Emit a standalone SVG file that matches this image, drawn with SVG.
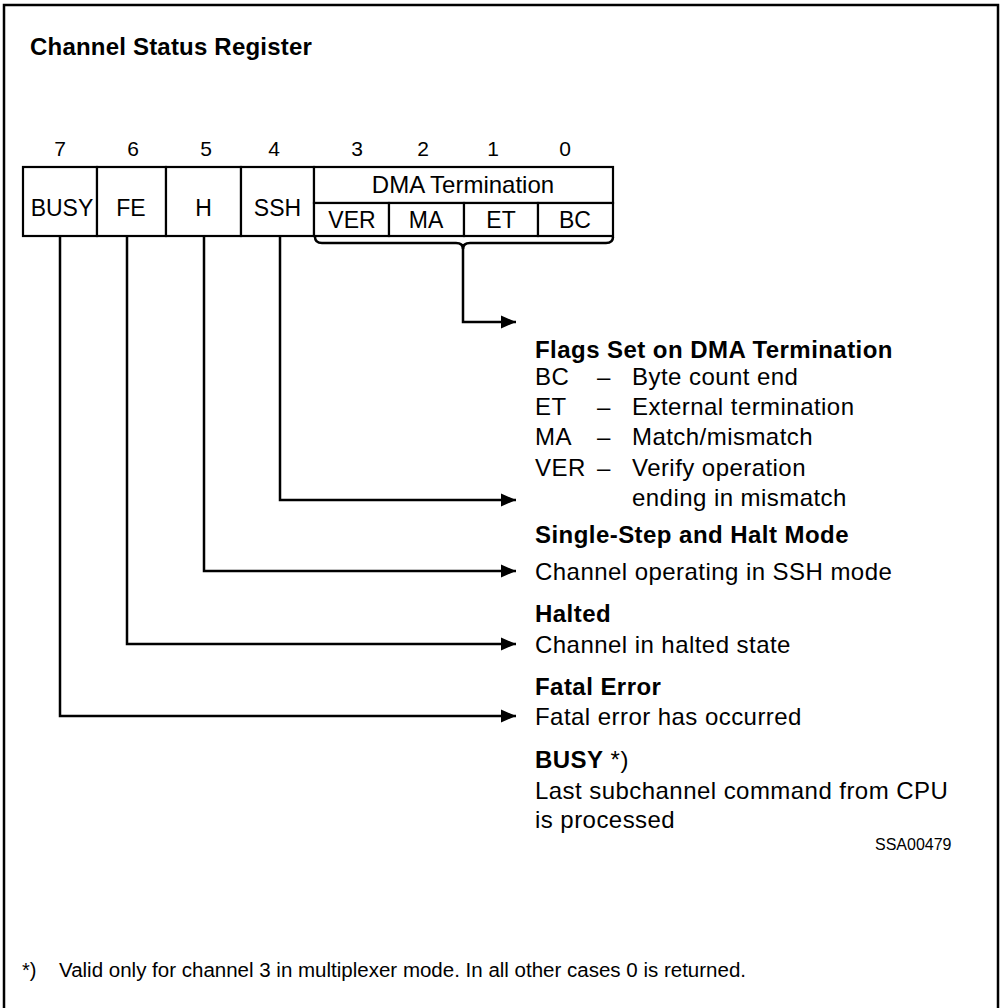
<svg xmlns="http://www.w3.org/2000/svg" width="1000" height="1008" viewBox="0 0 1000 1008">
<defs>
<style>
text{font-family:"Liberation Sans",Arial,sans-serif;fill:#000}
.t{font-size:24px;font-weight:bold;letter-spacing:0.2px}
.h{font-size:24px;font-weight:bold;letter-spacing:0.45px}
.d{font-size:24px;letter-spacing:0.45px}
.bit{font-size:21px;text-anchor:middle}
.cell{font-size:23px;text-anchor:middle}
.box{fill:#fff;stroke:#000;stroke-width:2.2}
.ln{fill:none;stroke:#000;stroke-width:2.5}
.foot{font-size:20px}
.code{font-size:16px}
</style>
<marker id="arr" markerUnits="userSpaceOnUse" markerWidth="16" markerHeight="16" viewBox="0 0 16 16" refX="15" refY="8" orient="auto">
<path d="M0,1.5 L15,8 L0,14.5 Z" fill="#000"/>
</marker>
</defs>
<rect x="0" y="0" width="1000" height="1008" fill="#fff"/>
<rect x="4" y="5" width="994" height="1020" fill="none" stroke="#000" stroke-width="2.5"/>
<text class="t" x="30" y="55">Channel Status Register</text>

<g id="bits">
<text class="bit" x="60" y="156">7</text>
<text class="bit" x="133" y="156">6</text>
<text class="bit" x="206" y="156">5</text>
<text class="bit" x="274" y="156">4</text>
<text class="bit" x="357" y="156">3</text>
<text class="bit" x="423" y="156">2</text>
<text class="bit" x="493" y="156">1</text>
<text class="bit" x="565" y="156">0</text>
</g>

<g id="reg-busy"><rect class="box" x="23" y="167" width="74" height="69"/><text class="cell" x="62" y="216">BUSY</text></g>
<g id="reg-fe"><rect class="box" x="97" y="167" width="69" height="69"/><text class="cell" x="131" y="216">FE</text></g>
<g id="reg-h"><rect class="box" x="166" y="167" width="75" height="69"/><text class="cell" x="203.5" y="216">H</text></g>
<g id="reg-ssh"><rect class="box" x="241" y="167" width="73" height="69"/><text class="cell" x="277.5" y="216">SSH</text></g>
<g id="reg-dma">
<rect class="box" x="314" y="167" width="299" height="36"/>
<text class="cell" x="463" y="193" style="font-size:24px">DMA Termination</text>
</g>
<g id="reg-ver"><rect class="box" x="314" y="203" width="75" height="33"/><text class="cell" x="352" y="228">VER</text></g>
<g id="reg-ma"><rect class="box" x="389" y="203" width="75" height="33"/><text class="cell" x="426" y="228">MA</text></g>
<g id="reg-et"><rect class="box" x="464" y="203" width="74" height="33"/><text class="cell" x="501" y="228">ET</text></g>
<g id="reg-bc"><rect class="box" x="538" y="203" width="75" height="33"/><text class="cell" x="575" y="228">BC</text></g>

<g id="connectors">
<path class="ln" d="M315,237 Q315,243 322,243 L456,243 Q463,243 463,249 Q463,243 470,243 L606,243 Q613,243 613,237"/>
<path class="ln" d="M463,244 L463,322 L516,322" marker-end="url(#arr)"/>
<path class="ln" d="M280,237 L280,500 L516,500" marker-end="url(#arr)"/>
<path class="ln" d="M204,237 L204,571 L516,571" marker-end="url(#arr)"/>
<path class="ln" d="M127,237 L127,644 L516,644" marker-end="url(#arr)"/>
<path class="ln" d="M60,237 L60,716 L516,716" marker-end="url(#arr)"/>
</g>

<g id="desc-dma">
<text class="h" x="535" y="358">Flags Set on DMA Termination</text>
<text class="d" x="535" y="385">BC</text><text class="d" x="597" y="385">–</text><text class="d" x="632" y="385">Byte count end</text>
<text class="d" x="535" y="415">ET</text><text class="d" x="597" y="415">–</text><text class="d" x="632" y="415">External termination</text>
<text class="d" x="535" y="445">MA</text><text class="d" x="597" y="445">–</text><text class="d" x="632" y="445">Match/mismatch</text>
<text class="d" x="535" y="476">VER</text><text class="d" x="597" y="476">–</text><text class="d" x="632" y="476">Verify operation</text>
<text class="d" x="632" y="506">ending in mismatch</text>
</g>
<g id="desc-ssh">
<text class="h" x="535" y="543">Single-Step and Halt Mode</text>
<text class="d" x="535" y="580">Channel operating in SSH mode</text>
</g>
<g id="desc-h">
<text class="h" x="535" y="622">Halted</text>
<text class="d" x="535" y="653">Channel in halted state</text>
</g>
<g id="desc-fe">
<text class="h" x="535" y="695">Fatal Error</text>
<text class="d" x="535" y="725">Fatal error has occurred</text>
</g>
<g id="desc-busy">
<text class="h" x="535" y="768">BUSY<tspan style="font-weight:normal"> *)</tspan></text>
<text class="d" x="535" y="799">Last subchannel command from CPU</text>
<text class="d" x="535" y="828">is processed</text>
</g>
<text class="code" x="875" y="850">SSA00479</text>
<text class="foot" x="22" y="977">*)</text>
<text class="foot" x="59" y="977" textLength="687" lengthAdjust="spacingAndGlyphs">Valid only for channel 3 in multiplexer mode. In all other cases 0 is returned.</text>
</svg>
